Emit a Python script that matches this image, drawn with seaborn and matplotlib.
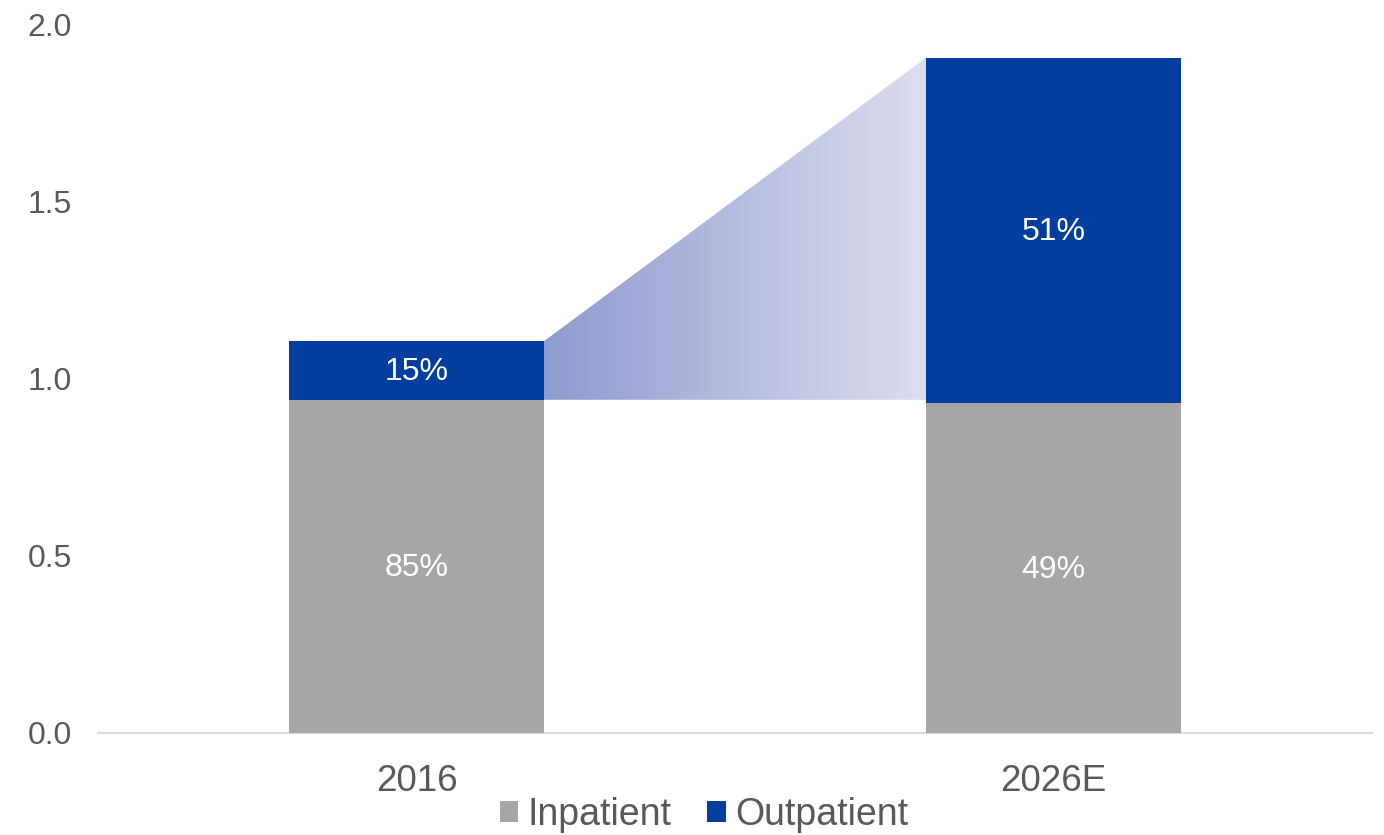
import numpy as np
import matplotlib
matplotlib.use("Agg")
import matplotlib.pyplot as plt
import seaborn as sns
from matplotlib.patches import Polygon, Patch
from matplotlib.colors import LinearSegmentedColormap

years = ["2016", "2026E"]
inpatient = [0.94, 0.93]
outpatient = [0.165, 0.975]
inpatient_pct = ["85%", "49%"]
outpatient_pct = ["15%", "51%"]
yticks = [0.0, 0.5, 1.0, 1.5, 2.0]

GRAY = "#a6a6a6"
BLUE = "#023ea0"
TXT = "#595959"

sns.set_theme(style="white")
plt.rcParams["font.family"] = ["Liberation Sans", "DejaVu Sans"]

fig = plt.figure(figsize=(13.84, 8.35), dpi=100)
ax = fig.add_axes([98 / 1384, 1 - 733 / 835, (1372 - 98) / 1384, (733 - 24) / 835])

totals = [a + b for a, b in zip(inpatient, outpatient)]
W = 0.4
sns.barplot(x=years, y=totals, color=BLUE, width=W, saturation=1, ax=ax, zorder=2, linewidth=0)
sns.barplot(x=years, y=inpatient, color=GRAY, width=W, saturation=1, ax=ax, zorder=3, linewidth=0)

# gradient connector
x0, x1 = 0 + W / 2, 1 - W / 2
poly = Polygon([[x0, inpatient[0]], [x0, totals[0]], [x1, totals[1]], [x1, inpatient[0]]],
               closed=True, facecolor="none", edgecolor="none", transform=ax.transData)
ax.add_patch(poly)
cmap = LinearSegmentedColormap.from_list("g", ["#8f9ad0", "#dcdef0"])
grad = np.linspace(0, 1, 256).reshape(1, -1)
im = ax.imshow(grad, cmap=cmap, extent=[x0, x1, inpatient[0], totals[1]],
               aspect="auto", zorder=1, interpolation="bicubic")
im.set_clip_path(poly)

for i in range(len(years)):
    ax.text(i, inpatient[i] / 2 - 0.005, inpatient_pct[i], ha="center", va="center",
            color="white", fontsize=23, zorder=5)
    ax.text(i, inpatient[i] + outpatient[i] / 2 - 0.005, outpatient_pct[i], ha="center", va="center",
            color="white", fontsize=23, zorder=5)

ax.set_xlim(-0.5, 1.5)
ax.set_ylim(0, 2.0)
ax.set_yticks(yticks)
ax.set_yticklabels([f"{v:.1f}" for v in yticks])
ax.tick_params(axis="y", length=0, pad=19, labelsize=23, labelcolor=TXT)
ax.tick_params(axis="x", length=0, pad=22, labelsize=26.5, labelcolor=TXT)
for s in ["top", "right", "left"]:
    ax.spines[s].set_visible(False)
ax.spines["bottom"].set_color("#d9d9d9")
ax.spines["bottom"].set_linewidth(1.5)
ax.spines["bottom"].set_zorder(0)
ax.set_xlabel("")
ax.set_ylabel("")

handles = [Patch(facecolor=GRAY, edgecolor="none"), Patch(facecolor=BLUE, edgecolor="none")]
fig.legend(handles, ["Inpatient", "Outpatient"], loc="center", bbox_to_anchor=(704 / 1384, 1 - 815 / 835),
           ncol=2, frameon=False, fontsize=27, labelcolor=TXT, handlelength=0.5, handleheight=0.5,
           handletextpad=0.25, columnspacing=0.95, borderpad=0)

fig.savefig("out.png", dpi=100)
